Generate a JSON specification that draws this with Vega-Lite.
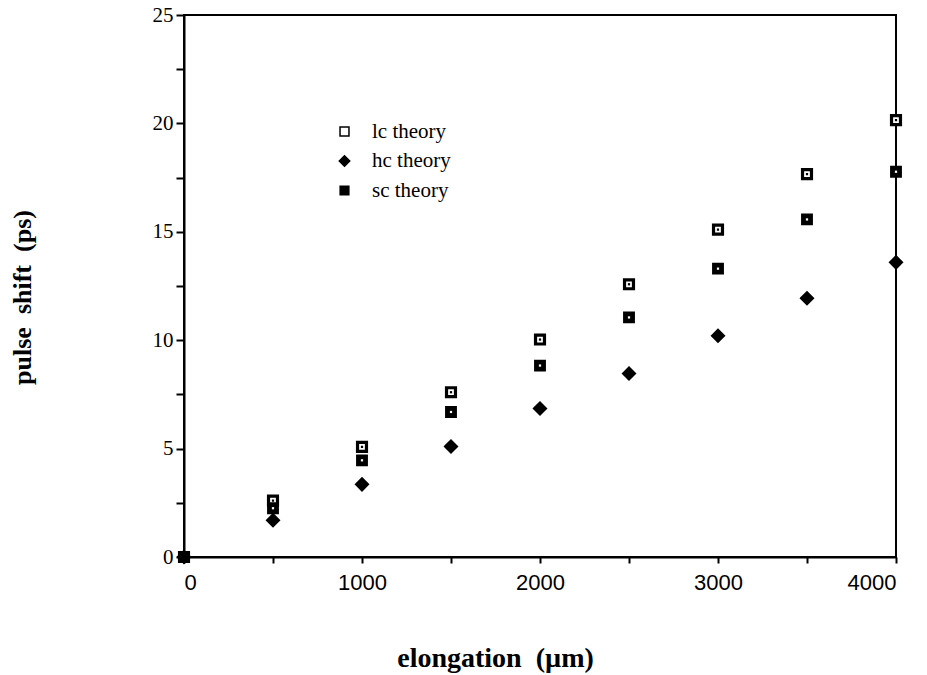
{
  "$schema": "https://vega.github.io/schema/vega-lite/v6.json",
  "width": 712,
  "height": 542,
  "autosize": "none",
  "padding": {"left": 184, "top": 15, "right": 31, "bottom": 118},
  "background": "white",
  "config": {
    "view": {"stroke": "black", "strokeWidth": 2},
    "axis": {"grid": false, "domainColor": "black", "domainWidth": 2, "tickColor": "black", "tickWidth": 2, "labelColor": "black", "titleColor": "black"}
  },
  "data": {
    "values": [
      {"elongation": 0, "shift": 0, "series": "lc theory"},
      {"elongation": 500, "shift": 2.6, "series": "lc theory"},
      {"elongation": 1000, "shift": 5.08, "series": "lc theory"},
      {"elongation": 1500, "shift": 7.6, "series": "lc theory"},
      {"elongation": 2000, "shift": 10.03, "series": "lc theory"},
      {"elongation": 2500, "shift": 12.58, "series": "lc theory"},
      {"elongation": 3000, "shift": 15.1, "series": "lc theory"},
      {"elongation": 3500, "shift": 17.66, "series": "lc theory"},
      {"elongation": 4000, "shift": 20.15, "series": "lc theory"},
      {"elongation": 0, "shift": 0, "series": "hc theory"},
      {"elongation": 500, "shift": 1.69, "series": "hc theory"},
      {"elongation": 1000, "shift": 3.35, "series": "hc theory"},
      {"elongation": 1500, "shift": 5.1, "series": "hc theory"},
      {"elongation": 2000, "shift": 6.85, "series": "hc theory"},
      {"elongation": 2500, "shift": 8.46, "series": "hc theory"},
      {"elongation": 3000, "shift": 10.2, "series": "hc theory"},
      {"elongation": 3500, "shift": 11.94, "series": "hc theory"},
      {"elongation": 4000, "shift": 13.59, "series": "hc theory"},
      {"elongation": 0, "shift": 0, "series": "sc theory"},
      {"elongation": 500, "shift": 2.25, "series": "sc theory"},
      {"elongation": 1000, "shift": 4.46, "series": "sc theory"},
      {"elongation": 1500, "shift": 6.69, "series": "sc theory"},
      {"elongation": 2000, "shift": 8.83, "series": "sc theory"},
      {"elongation": 2500, "shift": 11.05, "series": "sc theory"},
      {"elongation": 3000, "shift": 13.3, "series": "sc theory"},
      {"elongation": 3500, "shift": 15.57, "series": "sc theory"},
      {"elongation": 4000, "shift": 17.77, "series": "sc theory"}
    ]
  },
  "layer": [
    {
      "mark": {"type": "point", "filled": true, "opacity": 1, "clip": false},
      "encoding": {
        "x": {
          "field": "elongation", "type": "quantitative",
          "scale": {"domain": [0, 4000], "nice": false, "zero": true},
          "axis": {
            "title": "elongation\u00a0\u00a0(µm)",
            "values": [0, 500, 1000, 1500, 2000, 2500, 3000, 3500, 4000],
            "labelExpr": "datum.value % 1000 === 0 ? datum.label : ''",
            "format": "d",
            "labelFont": "Liberation Sans", "labelFontSize": 22, "labelPadding": 9,
            "tickSize": 6,
            "titleFont": "Liberation Serif", "titleFontWeight": "bold", "titleFontSize": 28,
            "titleX": 311, "titleY": 109, "titleBaseline": "alphabetic", "titleAlign": "center"
          }
        },
        "y": {
          "field": "shift", "type": "quantitative",
          "scale": {"domain": [0, 25], "nice": false},
          "axis": {
            "title": "pulse\u00a0\u00a0shift\u00a0\u00a0(ps)",
            "values": [0, 2.5, 5, 7.5, 10, 12.5, 15, 17.5, 20, 22.5, 25],
            "labelExpr": "datum.value % 5 === 0 ? datum.label : ''",
            "labelFont": "Liberation Serif", "labelFontSize": 21, "labelPadding": 3,
            "tickSize": 8,
            "titleFont": "Liberation Serif", "titleFontWeight": "bold", "titleFontSize": 26,
            "titleX": -162, "titleY": 282, "titleBaseline": "middle", "titleAlign": "center", "titleAngle": -90
          }
        },
        "shape": {
          "field": "series", "type": "nominal",
          "scale": {"domain": ["lc theory", "hc theory", "sc theory"], "range": ["square", "diamond", "square"]},
          "legend": {
            "title": null, "orient": "none", "legendX": 150, "legendY": 106,
            "labelFont": "Liberation Serif", "labelFontSize": 21, "labelColor": "black",
            "labelOffset": 17, "rowPadding": 7.5, "padding": 0,
            "encode": {"symbols": {"update": {"stroke": {"value": "black"}, "strokeWidth": {"value": 3}}}}
          }
        },
        "fill": {
          "field": "series", "type": "nominal",
          "scale": {"domain": ["lc theory", "hc theory", "sc theory"], "range": ["white", "black", "black"]},
          "legend": {
            "title": null, "orient": "none", "legendX": 150, "legendY": 106,
            "labelFont": "Liberation Serif", "labelFontSize": 21, "labelColor": "black",
            "labelOffset": 17, "rowPadding": 7.5, "padding": 0,
            "encode": {"symbols": {"update": {"stroke": {"value": "black"}, "strokeWidth": {"value": 3}}}}
          }
        },
        "size": {
          "field": "series", "type": "nominal",
          "scale": {"type": "ordinal", "domain": ["lc theory", "hc theory", "sc theory"], "range": [80, 110, 75]},
          "legend": {
            "title": null, "orient": "none", "legendX": 150, "legendY": 106,
            "labelFont": "Liberation Serif", "labelFontSize": 21, "labelColor": "black",
            "labelOffset": 17, "rowPadding": 7.5, "padding": 0,
            "encode": {"symbols": {"update": {"stroke": {"value": "black"}, "strokeWidth": {"value": 3}}}}
          }
        },
        "stroke": {"value": "black"},
        "strokeWidth": {"value": 3.2}
      }
    },
    {
      "transform": [{"filter": "datum.series !== 'hc theory' && datum.elongation > 0"}],
      "mark": {"type": "square", "size": 5, "opacity": 1, "clip": false},
      "encoding": {
        "x": {"field": "elongation", "type": "quantitative"},
        "y": {"field": "shift", "type": "quantitative"},
        "color": {"condition": {"test": "datum.series === 'lc theory'", "value": "black"}, "value": "white"}
      }
    }
  ]
}
